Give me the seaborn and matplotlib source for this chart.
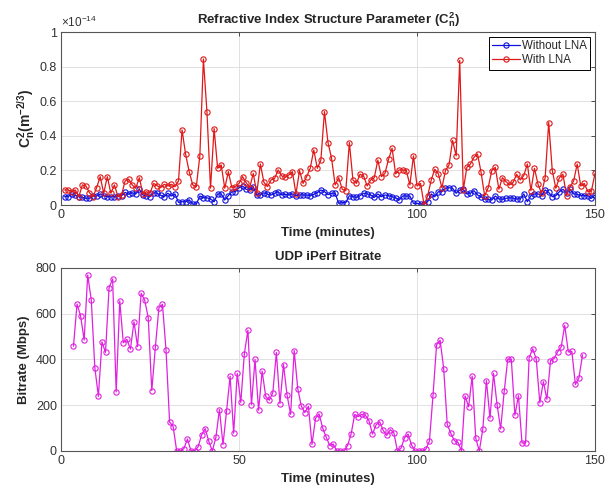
import numpy as np
import pandas as pd
import matplotlib
matplotlib.use("Agg")
import matplotlib.pyplot as plt
import seaborn as sns

# C_n^2 in units of 1e-14 m^-2/3, one sample per minute
minutes = list(range(1, 151))

cn2_without_lna = [
    0.048, 0.048, 0.064, 0.056, 0.048, 0.044, 0.039, 0.039, 0.052, 0.052,
    0.064, 0.054, 0.048, 0.048, 0.048, 0.054, 0.054, 0.073, 0.062, 0.071,
    0.064, 0.091, 0.058, 0.054, 0.048, 0.071, 0.068, 0.056, 0.048, 0.068,
    0.052, 0.064, 0.015, 0.019, 0.019, 0.030, 0.005, 0.005, 0.052, 0.042,
    0.042, 0.035, 0.019, 0.064, 0.064, 0.029, 0.054, 0.077, 0.077, 0.100,
    0.110, 0.091, 0.087, 0.106, 0.058, 0.058, 0.071, 0.062, 0.058, 0.068,
    0.077, 0.058, 0.062, 0.058, 0.064, 0.054, 0.058, 0.058, 0.058, 0.054,
    0.062, 0.071, 0.087, 0.077, 0.060, 0.068, 0.068, 0.010, 0.014, 0.014,
    0.054, 0.048, 0.044, 0.054, 0.068, 0.064, 0.058, 0.044, 0.064, 0.048,
    0.058, 0.054, 0.048, 0.042, 0.029, 0.052, 0.052, 0.052, 0.010, 0.010,
    0.006, 0.006, 0.019, 0.064, 0.048, 0.077, 0.077, 0.097, 0.100, 0.097,
    0.068, 0.087, 0.091, 0.064, 0.068, 0.083, 0.058, 0.048, 0.033, 0.033,
    0.029, 0.052, 0.035, 0.033, 0.039, 0.042, 0.039, 0.035, 0.035, 0.064,
    0.019, 0.054, 0.064, 0.064, 0.054, 0.087, 0.073, 0.048, 0.054, 0.077,
    0.091, 0.068, 0.091, 0.064, 0.062, 0.054, 0.054, 0.054, 0.039, 0.058,
]

cn2_with_lna = [
    0.087, 0.087, 0.077, 0.087, 0.048, 0.116, 0.110, 0.071, 0.048, 0.100,
    0.164, 0.068, 0.164, 0.068, 0.116, 0.048, 0.058, 0.139, 0.150, 0.116,
    0.097, 0.158, 0.064, 0.077, 0.068, 0.125, 0.112, 0.100, 0.120, 0.110,
    0.120, 0.106, 0.139, 0.434, 0.293, 0.193, 0.116, 0.106, 0.284, 0.844,
    0.535, 0.097, 0.442, 0.212, 0.232, 0.097, 0.193, 0.100, 0.106, 0.125,
    0.164, 0.129, 0.100, 0.183, 0.068, 0.237, 0.131, 0.106, 0.145, 0.154,
    0.203, 0.168, 0.160, 0.174, 0.193, 0.064, 0.199, 0.125, 0.164, 0.212,
    0.318, 0.212, 0.260, 0.540, 0.361, 0.270, 0.116, 0.158, 0.091, 0.083,
    0.361, 0.145, 0.125, 0.178, 0.168, 0.110, 0.145, 0.158, 0.260, 0.164,
    0.183, 0.264, 0.328, 0.180, 0.203, 0.203, 0.199, 0.116, 0.284, 0.110,
    0.125, 0.000, 0.054, 0.145, 0.207, 0.180, 0.100, 0.199, 0.232, 0.373,
    0.284, 0.836, 0.087, 0.218, 0.237, 0.276, 0.295, 0.189, 0.054, 0.100,
    0.199, 0.218, 0.091, 0.158, 0.135, 0.116, 0.131, 0.178, 0.145, 0.170,
    0.237, 0.083, 0.212, 0.120, 0.068, 0.158, 0.477, 0.199, 0.097, 0.158,
    0.178, 0.054, 0.106, 0.139, 0.237, 0.110, 0.125, 0.077, 0.081, 0.183,
]

# UDP iPerf bitrate (Mbps)
bitrate_minutes = [3.5 + i for i in range(144)]
bitrate_mbps = [
    458, 642, 591, 485, 769, 660, 364, 239, 477, 431,
    714, 752, 258, 656, 473, 488, 445, 565, 456, 689,
    660, 583, 264, 453, 626, 641, 441, 127, 107, 0,
    0, 10, 52, 2, 0, 18, 70, 98, 43, 0,
    59, 181, 28, 174, 327, 78, 339, 212, 425, 528,
    203, 400, 178, 349, 239, 222, 255, 431, 207, 378,
    244, 160, 439, 273, 196, 168, 195, 29, 143, 162,
    101, 60, 24, 30, 0, 0, 0, 24, 75, 160,
    150, 160, 156, 132, 74, 114, 128, 90, 68, 93,
    80, 0, 12, 58, 74, 25, 0, 0, 0, 8,
    44, 244, 464, 484, 360, 116, 77, 45, 38, 0,
    241, 193, 327, 56, 0, 97, 308, 143, 339, 202,
    96, 261, 402, 400, 156, 242, 35, 35, 408, 447,
    402, 210, 303, 226, 395, 404, 433, 455, 549, 433,
    435, 291, 320, 420,
]

sns.set_style("whitegrid")
plt.rcParams["font.family"] = ["Liberation Sans", "DejaVu Sans"]
plt.rcParams["mathtext.fontset"] = "custom"
plt.rcParams["mathtext.rm"] = "Liberation Sans"
plt.rcParams["mathtext.bf"] = "Liberation Sans:bold"

fig = plt.figure(figsize=(6.12, 4.9), dpi=100)
ax1 = fig.add_axes([0.0997, 0.5816, 0.8725, 0.353])
ax2 = fig.add_axes([0.0997, 0.0796, 0.8725, 0.3735])

df_top = pd.DataFrame({"t": minutes, "without": cn2_without_lna, "with": cn2_with_lna})
df_bot = pd.DataFrame({"t": bitrate_minutes, "rate": bitrate_mbps})

mk = dict(marker="o", markersize=3.8, markerfacecolor="none", markeredgewidth=0.8)
sns.lineplot(data=df_top, x="t", y="without", ax=ax1, color="#1010e0", lw=0.9,
             markeredgecolor="#1010e0", label="Without LNA", **mk)
sns.lineplot(data=df_top, x="t", y="with", ax=ax1, color="#e01818", lw=0.9,
             markeredgecolor="#e01818", label="With LNA", **mk)
sns.lineplot(data=df_bot, x="t", y="rate", ax=ax2, color="#e020e0", lw=0.9,
             markeredgecolor="#e020e0", **mk)

for ax in (ax1, ax2):
    ax.set_xlim(0, 150)
    ax.set_xticks([0, 50, 100, 150])
    ax.grid(True, color="#dcdcdc", lw=0.6)
    ax.tick_params(direction="in", top=True, right=True, length=3, width=0.6,
                   labelsize=9, colors="#333333", pad=3)
    for s in ax.spines.values():
        s.set_color("#555555")
        s.set_linewidth(0.8)
    ax.set_xlabel("Time (minutes)", fontsize=9.5, fontweight="bold", labelpad=4)

ax1.set_ylim(0, 1)
ax1.set_yticks([0, 0.2, 0.4, 0.6, 0.8, 1])
ax1.set_yticklabels(["0", "0.2", "0.4", "0.6", "0.8", "1"])
ax1.set_ylabel(r"$\mathbf{C_n^2(m^{-2/3})}$", fontsize=10, labelpad=2)
ax1.set_title(r"Refractive Index Structure Parameter ($\mathbf{C_n^2}$)",
              fontsize=9.5, fontweight="bold", pad=6)
ax1.text(0.0, 1.01, r"$\times10^{-14}$", transform=ax1.transAxes,
         fontsize=8.5, color="#333333", ha="left", va="bottom")
leg = ax1.legend(loc="upper right", fontsize=8.3, frameon=True, fancybox=False,
                 edgecolor="black", framealpha=1, borderpad=0.3, handlelength=2.4,
                 handletextpad=0.2, labelspacing=0.2, borderaxespad=0.4)
leg.get_frame().set_linewidth(0.7)

ax2.set_ylim(0, 800)
ax2.set_yticks([0, 200, 400, 600, 800])
ax2.set_ylabel("Bitrate (Mbps)", fontsize=9.5, fontweight="bold", labelpad=4)
ax2.set_title("UDP iPerf Bitrate", fontsize=9.5, fontweight="bold", pad=6)

fig.savefig("out.png", dpi=100)
